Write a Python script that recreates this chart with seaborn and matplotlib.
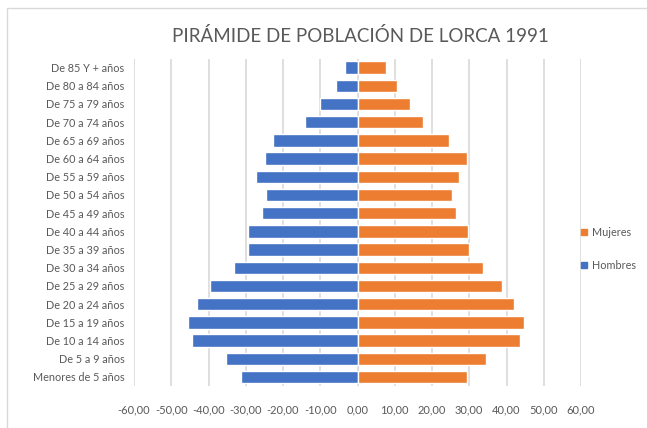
import matplotlib
matplotlib.use("Agg")
import matplotlib.pyplot as plt
import seaborn as sns
import pandas as pd
from matplotlib.patches import Rectangle
from matplotlib.lines import Line2D

categories = ["De 85 Y + años", "De 80 a 84 años", "De 75 a 79 años", "De 70 a 74 años",
              "De 65 a 69 años", "De 60 a 64 años", "De 55 a 59 años", "De 50 a 54 años",
              "De 45 a 49 años", "De 40 a 44 años", "De 35 a 39 años", "De 30 a 34 años",
              "De 25 a 29 años", "De 20 a 24 años", "De 15 a 19 años", "De 10 a 14 años",
              "De 5 a 9 años", "Menores de 5 años"]
hombres = [-3.3, -5.8, -10.2, -14.1, -22.8, -24.9, -27.2, -24.5, -25.7,
           -29.3, -29.3, -33.2, -39.6, -43.2, -45.6, -44.4, -35.2, -31.3]
mujeres = [7.7, 10.6, 14.1, 17.7, 24.5, 29.3, 27.3, 25.3, 26.4,
           29.7, 30.0, 33.6, 38.8, 41.9, 44.7, 43.7, 34.4, 29.3]
xticks = [-60, -50, -40, -30, -20, -10, 0, 10, 20, 30, 40, 50, 60]
xticklabels = ["-60,00", "-50,00", "-40,00", "-30,00", "-20,00", "-10,00", "0,00",
               "10,00", "20,00", "30,00", "40,00", "50,00", "60,00"]
title = "PIRÁMIDE DE POBLACIÓN DE LORCA 1991"

BLUE = "#4472C4"
ORANGE = "#ED7D31"
TXT = "#595959"
GRID = "#D9D9D9"

sns.set_theme(style="white")
plt.rcParams["font.family"] = ["Lato", "DejaVu Sans"]

df = pd.DataFrame({
    "grupo": categories * 2,
    "valor": hombres + mujeres,
    "sexo": ["Hombres"] * len(categories) + ["Mujeres"] * len(categories),
})

fig = plt.figure(figsize=(6.47, 4.28), dpi=100)
ax = fig.add_axes([134 / 647, 1 - 386 / 428, (581 - 134) / 647, (386 - 58.5) / 428])

sns.barplot(data=df, y="grupo", x="valor", hue="sexo", order=categories,
            hue_order=["Hombres", "Mujeres"], palette=[BLUE, ORANGE],
            saturation=1, dodge=False, width=0.68, orient="h", ax=ax,
            legend=False, zorder=3)

ax.set_xlim(-60, 60)
ax.set_ylim(len(categories) - 0.5, -0.5)
ax.set_xticks(xticks)
ax.set_xticklabels(xticklabels)
for x in xticks:
    ax.axvline(x, color=GRID, lw=1.2, zorder=1)
ax.set_xlabel("")
ax.set_ylabel("")
for s in ax.spines.values():
    s.set_visible(False)
ax.tick_params(axis="x", length=0, pad=13, labelsize=8, colors=TXT)
ax.tick_params(axis="y", length=0, pad=7, labelsize=7.8, colors=TXT)

fig.text(360 / 647, 1 - 36 / 428, title, ha="center", va="center",
         fontsize=13.5, color=TXT)

handles = [Line2D([], [], marker="s", ls="", color=ORANGE, markersize=5),
           Line2D([], [], marker="s", ls="", color=BLUE, markersize=5)]
fig.legend(handles, ["Mujeres", "Hombres"], loc="center left",
           bbox_to_anchor=(579 / 647, 1 - 249 / 428), frameon=False,
           fontsize=7.8, labelcolor=TXT, handletextpad=0.2, handlelength=1.0,
           labelspacing=2.0, borderaxespad=0, borderpad=0)

fig.patches.append(Rectangle((7 / 647, -0.1), 1.2, 1.1 - 8 / 428,
                             transform=fig.transFigure, fill=False,
                             edgecolor="#D9D9D9", lw=1, zorder=0))

fig.savefig("out.png", dpi=100)
